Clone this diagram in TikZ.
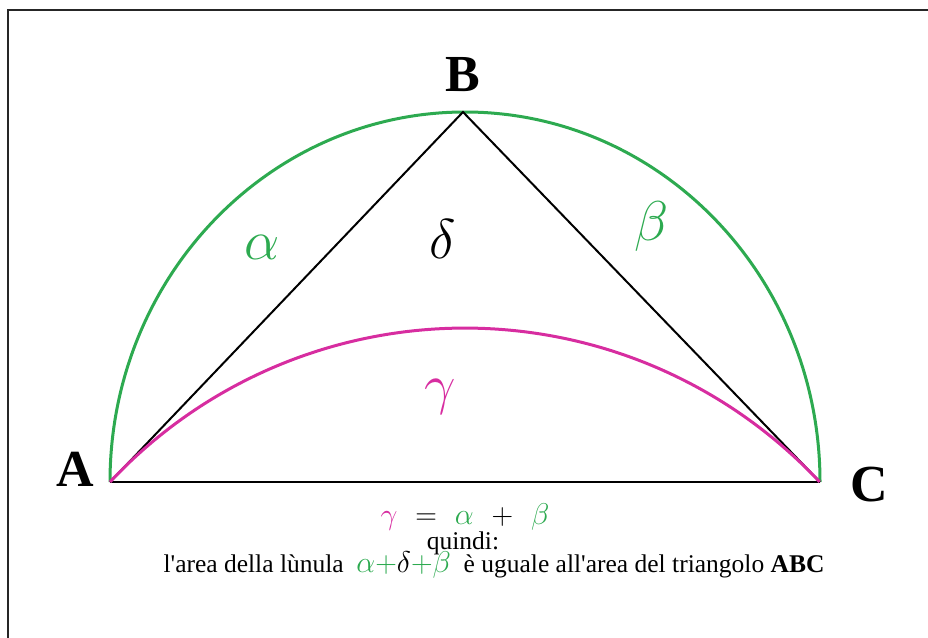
\documentclass[tikz,border=0pt]{standalone}
\usepackage{fix-cm}
\usepackage{fontspec}
\setmainfont{Liberation Serif}
\definecolor{lgreen}{RGB}{45,170,80}
\definecolor{lmag}{RGB}{215,45,160}
\newcommand\gk[1]{{\fontsize{30}{24}\selectfont$#1$}}
\tikzset{
  vlabel/.style={font=\fontsize{52}{52}\selectfont\bfseries, inner sep=0pt},
  glabel/.style={font=\fontsize{56}{56}\selectfont, inner sep=0pt},
  txt/.style={font=\fontsize{25.5}{23.5}\selectfont, inner sep=0pt, anchor=base, text height=12pt, text depth=2pt},
}
\begin{document}
\begin{tikzpicture}[x=1pt,y=-1pt]
\useasboundingbox (0,0) rectangle (928,637);
\begin{scope}
\clip (0,0) rectangle (928,637);
\draw[line width=2.6pt, black!85] (8,10) rectangle (960,680);
\end{scope}
\coordinate (pA) at (110,482);
\coordinate (pB) at (463,112);
\coordinate (pC) at (820,482);
\draw[lgreen, line width=3pt] (pA) arc[start angle=180, end angle=0, x radius=355pt, y radius=370pt];
\draw[line width=2pt] (pA) -- (pB) -- (pC);
\draw[line width=2.2pt] (pA) -- (pC);
\draw[lmag, line width=3pt] (pA) arc[start angle=136.9, end angle=43.1, radius=486pt];
\node[vlabel] (lA) at (75,469) {A};
\node[vlabel] (lB) at (463,75) {B};
\node[vlabel] (lC) at (869,485) {C};
\node[glabel, text=lgreen] (alpha) at (262,247) {$\alpha$};
\node[glabel] (delta) at (443,239) {$\delta$};
\node[glabel, text=lgreen] (beta) at (652,226) {$\beta$};
\node[glabel, text=lmag] (gamma) at (440,397) {$\gamma$};
\node[txt] (eq) at (465,524) {\textcolor{lmag}{\gk{\gamma}}\hspace{0.7em}\gk{=}\hspace{0.7em}\textcolor{lgreen}{\gk{\alpha}}\hspace{0.7em}\gk{+}\hspace{0.7em}\textcolor{lgreen}{\gk{\beta}}};
\node[txt] (q) at (463,549) {quindi:};
\node[txt] (l3) at (494,572) {l\textquotesingle area della lùnula\ \ \textcolor{lgreen}{\gk{\alpha{+}}}\gk{\delta}\textcolor{lgreen}{\gk{{+}\beta}}\ \ è uguale all\textquotesingle area del triangolo \textbf{ABC}};
\end{tikzpicture}
\end{document}
